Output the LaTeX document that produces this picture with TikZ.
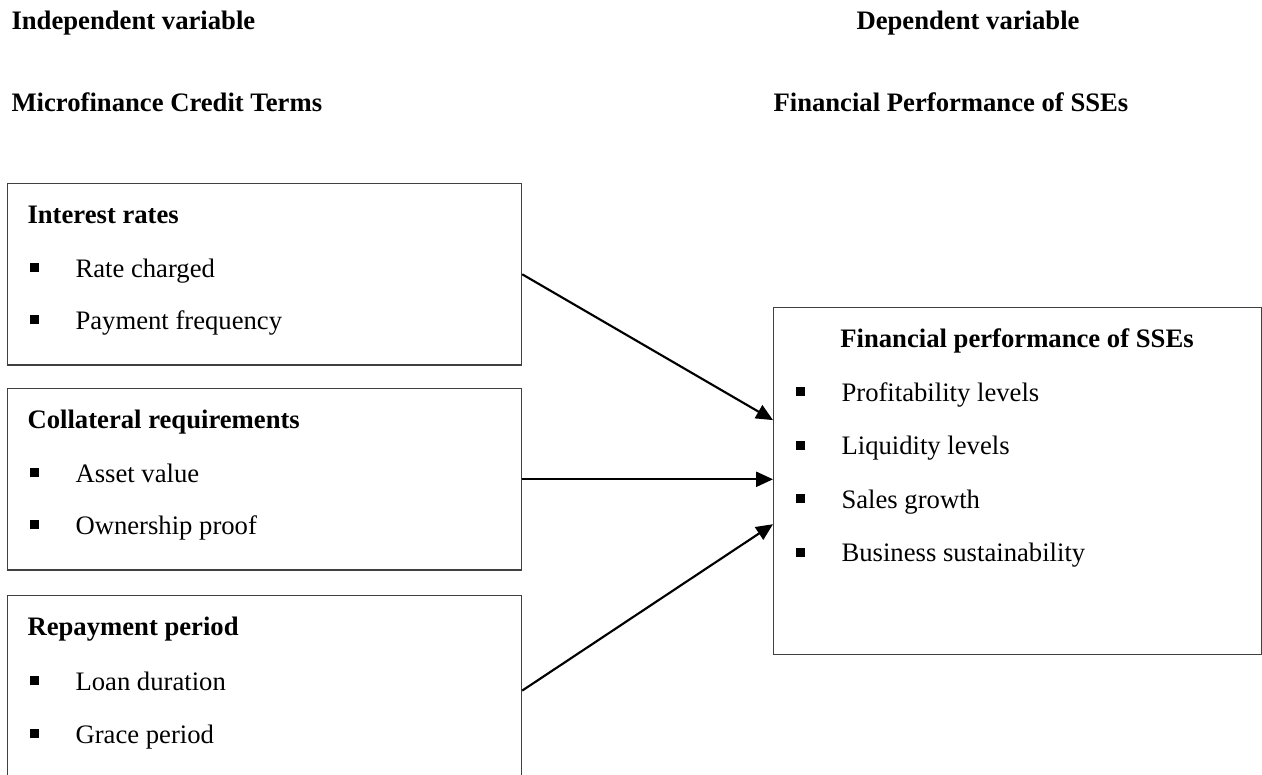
\documentclass[tikz,border=0pt]{standalone}
\usepackage{fontspec}
\setmainfont{Liberation Serif}
\usetikzlibrary{arrows.meta,positioning}

% small square bullet followed by a fixed indent
\newcommand{\sqbullet}{\makebox[17.25pt][l]{\rule[1.7pt]{3.4pt}{3.4pt}}}

\tikzset{
  box/.style={draw=black!75, line width=0.45pt, anchor=north west, inner sep=0pt},
  leftbox/.style={box, minimum width=192.75pt, minimum height=68pt},
  head/.style={font=\bfseries, anchor=base west, inner sep=0pt},
  item/.style={anchor=base west, inner sep=0pt},
  link/.style={-{Triangle[length=6.3pt,width=5.6pt]}, line width=0.8pt}
}

\begin{document}
\begin{tikzpicture}[x=0.375pt, y=-0.375pt]
        \clip (0,0) rectangle (1262,774);

        % Variable headings
        \node [head] (indep) at (11,29) {Independent variable};
        \node [head] (credit) at (11,111) {Microfinance Credit Terms};
        \node [head] (dep) at (856,29) {Dependent variable};
        \node [head] (perf) at (773,111) {Financial Performance of SSEs};

        % Credit term boxes
        \node [leftbox] (ir) at (7,183) {};
        \node [head] (irhead) at (27,223) {Interest rates};
        \node [item] (ir1) at (29,277) {\sqbullet Rate charged};
        \node [item] (ir2) at (29,329) {\sqbullet Payment frequency};

        \node [leftbox] (cr) at (7,388) {};
        \node [head] (crhead) at (27,428) {Collateral requirements};
        \node [item] (cr1) at (29,482) {\sqbullet Asset value};
        \node [item] (cr2) at (29,534) {\sqbullet Ownership proof};

        \node [leftbox, minimum height=71.25pt] (rp) at (7,595) {};
        \node [head] (rphead) at (27,635) {Repayment period};
        \node [item] (rp1) at (29,690) {\sqbullet Loan duration};
        \node [item] (rp2) at (29,743) {\sqbullet Grace period};

        % Performance box
        \node [box, minimum width=183pt, minimum height=130.1pt] (fp) at (773,307) {};
        \node [head, anchor=base] (fphead) at (1017,347) {Financial performance of SSEs};
        \node [item] (fp1) at (795,401) {\sqbullet Profitability levels};
        \node [item] (fp2) at (795,454.5) {\sqbullet Liquidity levels};
        \node [item] (fp3) at (795,508) {\sqbullet Sales growth};
        \node [item] (fp4) at (795,561.5) {\sqbullet Business sustainability};

        % Arrows
        \draw [link] (ir.east) -- (fp.166.7);
        \draw [link] (cr.east) -- (cr.east -| fp.west);
        \draw [link] (rp.east) -- (fp.190.8);
\end{tikzpicture}
\end{document}
